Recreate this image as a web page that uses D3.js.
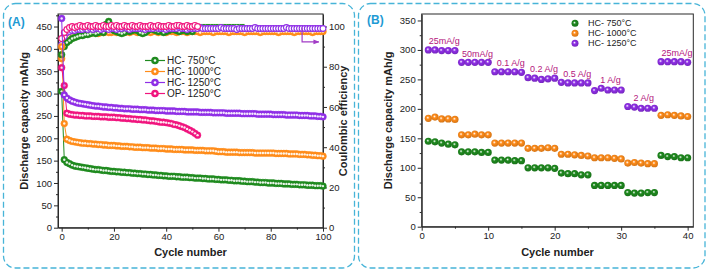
<!DOCTYPE html>
<html><head><meta charset="utf-8">
<script src="https://cdn.jsdelivr.net/npm/d3@7"></script>
<style>body{margin:0;background:#fff}svg{display:block;font-family:"Liberation Sans",Arial,sans-serif}</style>
</head><body>
<script>
// ---------- Panel A data (cycle index = array index, 0..100) ----------
const seriesNamesA = ["HC- 750°C","HC- 1000°C","HC- 1250°C","OP- 1250°C"];
const capHC750 = [305,152,146,143,140,138,137,136,135,134,
 133,132,131,130,130,129,128,128,127,126,
 126,125,125,124,124,123,123,122,122,121,
 121,120,120,119,119,118,118,117,117,116,
 116,115,115,115,114,114,113,113,113,112,
 112,111,111,111,110,110,109,109,109,108,
 108,107,107,107,106,106,105,105,105,104,
 104,103,103,103,102,102,101,101,101,100,
 100,100,99,99,99,98,98,98,97,97,
 97,96,96,96,95,95,95,94,94,94,
 93];
const capHC1000 = [405,233,198,195,193,192,191,190,189,189,
 188,188,187,187,186,186,185,185,184,184,
 184,183,183,182,182,182,181,181,180,180,
 180,179,179,179,178,178,178,177,177,177,
 176,176,176,175,175,175,175,174,174,174,
 174,173,173,173,173,172,172,172,172,171,
 170,170,170,169,169,169,169,169,168,168,
 168,168,168,168,167,167,167,167,167,167,
 167,167,166,166,166,166,166,165,165,165,
 165,164,164,164,163,163,162,162,161,161,
 160];
const capHC1250 = [468,297,290,286,283,281,279,278,277,276,
 275,274,273,272,272,271,270,270,269,269,
 268,268,267,267,266,266,266,265,265,265,
 264,264,264,263,263,263,262,262,262,262,
 261,261,261,261,260,260,260,260,259,259,
 259,259,259,258,258,258,258,258,257,257,
 257,257,257,256,256,256,256,256,256,255,
 255,255,255,255,255,254,254,254,254,254,
 254,253,253,253,253,253,252,252,252,252,
 252,251,251,251,251,250,250,250,249,249,
 248];
const capOP1250 = [358,318,256,254,253,252,252,251,251,250,
 250,250,249,249,249,248,248,248,247,247,
 247,246,246,245,245,244,244,243,243,242,
 242,241,241,240,239,239,238,237,236,236,
 235,234,233,231,230,228,226,224,221,218,
 215,211,207];
// Coulombic efficiency (%)
const ceHC750 = [86,90,92,93,94,94.5,95,95.5,95.5,96,
 96,96.5,97,96.5,97,97.5,97,101,102.5,99,
 98,97.5,97,96.5,97,98,97.5,98,98.5,98,
 97,96.5,97,98,99,98.5,98,97.5,98,97,
 97.5,98,99,98.5,98,97.5,98,98.5,97.5,98,
 97.5,100.5,101,101,101,101,101,101,101,101,
 101,101,101,101,101,101,101,101,101,101,101];
const ceHC1000 = [84,92,94,95,95.5,96,96,96.5,96.5,96.5,
 97,96.5,97,97,96.5,97,97,97.5,97,97,
 97.5,97,97,97.5,97,97.5,97,97.5,97.5,97,
 97.5,97,97.5,97.5,97,97.5,97.5,97,97.5,97.5,
 97,97.5,97.5,97.5,97,97.5,97.5,97.5,97,97.5,
 97.5,97.5,97.5,97,97.5,97.5,97.5,97.5,97,97.5,
 97.5,97.5,97.5,97.5,97,97.5,97.5,97.5,97.5,97.5,
 97,97.5,97.5,97.5,97.5,97.5,97,97.5,97.5,97.5,
 97.5,97.5,97.5,97,97.5,97.5,97.5,97.5,97.5,97,
 97.5,97.5,97.5,97.5,97.5,97.5,97,97.5,97.5,97.5,
 97.5];
const ceHC1250 = [91,95,97,97.5,98,98,98.5,98.5,98.5,99,
 98.5,99,98.5,99,99,98.5,99,99,98.5,99,
 99,98.5,99,99,99.5,99,98.5,99,99,99,
 99,99,98.5,99,99,99,99.5,99,99,99,
 98.5,99,99,99,99,99.5,99,99,98.5,99,
 99,99,99,99.5,99,99,99,99,99,99,
 99,99.5,99,99,99,99,99,98.5,99,99,
 99,99,99,99,99.5,99,99,99,99,99,
 99,99,99,99,99,99,99.5,99,99,99,
 99,99,99,99,99,99,99,99,99,99,
 99];
const ceOP1250 = [94,97,98.5,99.5,100,99.5,100,100.5,100,100,
 100.5,100,100,100.5,100,100,100.5,100,100,100.5,
 100,100.5,100,100,100.5,100,100,100.5,100,100,
 100.5,100,100,100,100.5,100,100,100.5,100,100,
 100,100.5,100,100,100.5,100.5,100,100,100.5,100,
 100,100.5,100];
const xTicksA = [0,20,40,60,80,100];
const yTicksA = [0,50,100,150,200,250,300,350,400,450];
const ceTicksA = [0,20,40,60,80,100];

// ---------- Panel B data (rate capability, cycles 1..40) ----------
const seriesNamesB = ["HC- 750°C","HC- 1000°C","HC- 1250°C"];
const rateCycles = [1,2,3,4,5,6,7,8,9,10,11,12,13,14,15,16,17,18,19,20,
 21,22,23,24,25,26,27,28,29,30,31,32,33,34,35,36,37,38,39,40];
const rateHC750 = [145,144,142,140,139, 127,127,127,126,126, 113,113,113,112,112, 100,100,100,100,99,
 91,90,90,88,88, 70,70,70,70,70, 58,57,57,58,58, 121,119,119,117,117];
const rateHC1000 = [184,186,183,183,182, 156,156,157,156,156, 142,142,142,142,142, 133,133,133,134,133,
 123,123,122,121,120, 117,117,117,116,115, 108,109,108,107,107, 189,190,189,188,187];
const rateHC1250 = [300,300,299,299,299, 279,279,279,279,279, 263,263,263,263,262, 253,252,250,251,252,
 245,244,244,244,244, 231,235,232,232,232, 204,203,201,201,201, 280,280,280,280,279];
const rateLabels = ["25mA/g","50mA/g","0.1 A/g","0.2 A/g","0.5 A/g","1 A/g","2 A/g","25mA/g"];
const xTicksB = [0,10,20,30,40];
const yTicksB = [0,50,100,150,200,250,300,350];

// ---------- styles ----------
const C = {green:"#1f8a1f", orange:"#ff8c1a", purple:"#8f2fe6", pink:"#f0157e"};
const axisColor = "#2a2a2a";
const panelBlue = "#47b4d8";

const svg = d3.select("body").append("svg").attr("width",709).attr("height",273);
const defs = svg.append("defs");
Object.entries(C).forEach(([k,c])=>{
  const g = defs.append("radialGradient").attr("id","g-"+k).attr("cx","45%").attr("cy","45%").attr("r","60%").attr("fx","42%").attr("fy","40%");
  g.append("stop").attr("offset","0%").attr("stop-color","#fff");
  g.append("stop").attr("offset","35%").attr("stop-color",c);
  g.append("stop").attr("offset","100%").attr("stop-color",d3.color(c).darker(0.6));
});
defs.append("marker").attr("id","arrowP").attr("viewBox","0 0 10 10").attr("refX",9).attr("refY",5)
  .attr("markerWidth",5).attr("markerHeight",5).attr("orient","auto")
  .append("path").attr("d","M0,1 L10,5 L0,9 z").attr("fill","#a23cc6");

// panel frames
svg.append("rect").attr("x",3.5).attr("y",3.5).attr("width",351).attr("height",264.5).attr("rx",12)
  .attr("fill","none").attr("stroke",panelBlue).attr("stroke-width",1.3).attr("stroke-dasharray","6,3");
svg.append("rect").attr("x",358.5).attr("y",3.5).attr("width",346.5).attr("height",264.5).attr("rx",12)
  .attr("fill","none").attr("stroke",panelBlue).attr("stroke-width",1.3).attr("stroke-dasharray","6,3");
svg.append("text").attr("x",8).attr("y",25.5).attr("font-size",12).attr("font-weight","bold").attr("fill","#1e9ad4").text("(A)");
svg.append("text").attr("x",367).attr("y",24).attr("font-size",12).attr("font-weight","bold").attr("fill","#1e9ad4").text("(B)");

function styleAxis(g){
  g.selectAll("path,line").attr("stroke",axisColor).attr("stroke-width",1);
  g.selectAll("text").attr("font-size",9.5).attr("fill","#222").attr("font-family","Liberation Sans, Arial, sans-serif");
}
function minorTicks(ticks, step){
  const out=[]; for(let i=0;i<ticks.length-1;i++) out.push(ticks[i]+step); return out;
}

// ================= Panel A =================
const LA=58, RA=323, TA=14, BA=227.7;
const xA = d3.scaleLinear([-1.4,100],[LA,RA]);
const yA = d3.scaleLinear([0,478],[BA,TA]);
const yCE = d3.scaleLinear([0,106.2],[BA,TA]);

const gA = svg.append("g");
gA.append("g").attr("transform",`translate(0,${BA})`).call(d3.axisBottom(xA).tickValues(xTicksA).tickSize(4).tickSizeOuter(0).tickPadding(2)).call(styleAxis);
gA.append("g").attr("transform",`translate(0,${BA})`).call(d3.axisBottom(xA).tickValues(minorTicks(xTicksA,10)).tickSize(2).tickFormat("")).call(styleAxis).select(".domain").remove();
gA.append("g").attr("transform",`translate(${LA},0)`).call(d3.axisLeft(yA).tickValues(yTicksA).tickSize(4).tickSizeOuter(0).tickPadding(2)).call(styleAxis);
gA.append("g").attr("transform",`translate(${LA},0)`).call(d3.axisLeft(yA).tickValues(minorTicks(yTicksA,25).concat([475])).tickSize(2).tickFormat("")).call(styleAxis).select(".domain").remove();
gA.append("g").attr("transform",`translate(${RA},0)`).call(d3.axisRight(yCE).tickValues(ceTicksA).tickSize(4).tickSizeOuter(0).tickPadding(2)).call(styleAxis);
gA.append("g").attr("transform",`translate(${RA},0)`).call(d3.axisRight(yCE).tickValues(minorTicks(ceTicksA,10)).tickSize(2).tickFormat("")).call(styleAxis).select(".domain").remove();
gA.append("rect").attr("x",LA).attr("y",TA).attr("width",RA-LA).attr("height",BA-TA).attr("fill","none").attr("stroke",axisColor).attr("stroke-width",1);

gA.append("text").attr("transform",`translate(24,${(TA+BA)/2}) rotate(-90)`).attr("text-anchor","middle").attr("dominant-baseline","central")
  .attr("font-size",11).attr("font-weight","bold").attr("fill","#222").text("Discharge capacity mAh/g");
gA.append("text").attr("transform",`translate(343,${(TA+BA)/2}) rotate(-90)`).attr("text-anchor","middle").attr("dominant-baseline","central")
  .attr("font-size",11).attr("font-weight","bold").attr("fill","#222").text("Coulombic efficiency");
gA.append("text").attr("x",(LA+RA)/2).attr("y",256).attr("text-anchor","middle")
  .attr("font-size",11).attr("font-weight","bold").attr("fill","#222").text("Cycle number");

const plotA = gA.append("g");
function drawA(data, color, ys, hollow, markerLimit){
  const lim = markerLimit==null ? data.length : markerLimit;
  plotA.append("path").datum(data).attr("fill","none").attr("stroke",color).attr("stroke-width",1)
    .attr("d", d3.line().x((d,i)=>xA(i)).y(d=>ys(d)));
  const pts = data.map((v,i)=>({i,v})).filter(d=>d.i<lim);
  const g = plotA.append("g");
  g.selectAll("circle.o").data(pts).join("circle").attr("cx",d=>xA(d.i)).attr("cy",d=>ys(d.v))
    .attr("r",hollow?2.9:3.4).attr("fill",hollow?"#fff":color).attr("stroke",color).attr("stroke-width",hollow?1.1:0.5);
  if(!hollow){
    g.selectAll("circle.w").data(pts).join("circle").attr("cx",d=>xA(d.i)).attr("cy",d=>ys(d.v))
      .attr("r",1.2).attr("fill","#fff").attr("fill-opacity",0.9);
  }
}
// coulombic efficiency
drawA(ceHC1000, C.orange, yCE, false);
drawA(ceHC750, C.green, yCE, false, 51);
drawA(ceHC1250, C.purple, yCE, true);
drawA(ceOP1250, C.pink, yCE, true);
// capacities
drawA(capHC750, C.green, yA, false);
drawA(capHC1000, C.orange, yA, false);
drawA(capOP1250, C.pink, yA, false);
drawA(capHC1250, C.purple, yA, false);

// arrow toward right axis
plotA.append("path").attr("d",`M${xA(92)},${yCE(99.5)} V${yCE(92.3)} H${xA(98.4)}`)
  .attr("fill","none").attr("stroke","#a23cc6").attr("stroke-width",1.2).attr("marker-end","url(#arrowP)");

// legend A
const legA = gA.append("g");
[C.green,C.orange,C.purple,C.pink].forEach((c,k)=>{
  const y = 60.5 + k*11;
  legA.append("line").attr("x1",145).attr("x2",165).attr("y1",y).attr("y2",y).attr("stroke",c).attr("stroke-width",1.2);
  legA.append("circle").attr("cx",155).attr("cy",y).attr("r",3.8).attr("fill",c);
  legA.append("circle").attr("cx",155).attr("cy",y).attr("r",1.3).attr("fill","#fff");
  legA.append("text").attr("x",167).attr("y",y).attr("dominant-baseline","central").attr("font-size",10).attr("fill","#222").text(seriesNamesA[k]);
});

// ================= Panel B =================
const LB=421.7, RB=693.3, TB=14, BB=226.7;
const xB = d3.scaleLinear([0,40.85],[LB,RB]);
const yB = d3.scaleLinear([0,361],[BB,TB]);
const gB = svg.append("g");
gB.append("g").attr("transform",`translate(0,${BB})`).call(d3.axisBottom(xB).tickValues(xTicksB).tickSize(4).tickSizeOuter(0).tickPadding(2)).call(styleAxis);
gB.append("g").attr("transform",`translate(0,${BB})`).call(d3.axisBottom(xB).tickValues(minorTicks(xTicksB,5)).tickSize(2).tickFormat("")).call(styleAxis).select(".domain").remove();
gB.append("g").attr("transform",`translate(${LB},0)`).call(d3.axisLeft(yB).tickValues(yTicksB).tickSize(4).tickSizeOuter(0).tickPadding(2)).call(styleAxis);
gB.append("g").attr("transform",`translate(${LB},0)`).call(d3.axisLeft(yB).tickValues(minorTicks(yTicksB,25)).tickSize(2).tickFormat("")).call(styleAxis).select(".domain").remove();
gB.append("rect").attr("x",LB).attr("y",TB).attr("width",RB-LB).attr("height",BB-TB).attr("fill","none").attr("stroke",axisColor).attr("stroke-width",1);
gB.append("text").attr("transform",`translate(388,${(TB+BB)/2}) rotate(-90)`).attr("text-anchor","middle").attr("dominant-baseline","central")
  .attr("font-size",11).attr("font-weight","bold").attr("fill","#222").text("Discharge capacity mAh/g");
gB.append("text").attr("x",(LB+RB)/2).attr("y",256).attr("text-anchor","middle")
  .attr("font-size",11).attr("font-weight","bold").attr("fill","#222").text("Cycle number");

function drawB(data, key){
  gB.append("g").selectAll("circle").data(data).join("circle")
    .attr("cx",(d,i)=>xB(rateCycles[i])).attr("cy",d=>yB(d)).attr("r",3.6)
    .attr("fill",`url(#g-${key})`);
}
drawB(rateHC750,"green");
drawB(rateHC1000,"orange");
drawB(rateHC1250,"purple");

// rate labels above each 5-cycle group of HC-1250
rateLabels.forEach((t,k)=>{
  const grp = rateHC1250.slice(k*5,k*5+5);
  const cx = xB(rateCycles[k*5] + 2.4);
  gB.append("text").attr("x",cx).attr("y",yB(d3.max(grp))-5.5).attr("text-anchor","middle")
    .attr("font-size",9).attr("fill","#b4157c").text(t);
});

// legend B
["green","orange","purple"].forEach((k,i)=>{
  const y = 23.3 + i*10;
  gB.append("circle").attr("cx",575).attr("cy",y).attr("r",3.5).attr("fill",`url(#g-${k})`);
  gB.append("text").attr("x",588).attr("y",y).attr("dominant-baseline","central").attr("font-size",9).attr("fill","#222").text(seriesNamesB[i]);
});
</script>
</body></html>
